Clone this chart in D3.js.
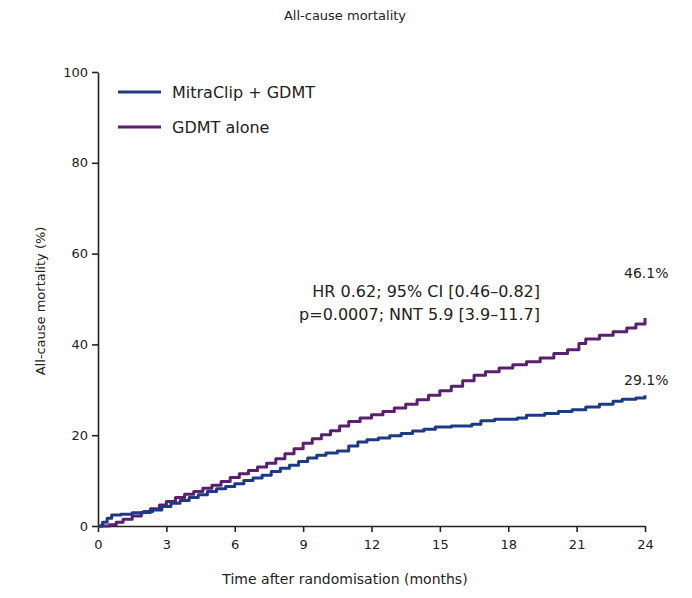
<!DOCTYPE html>
<html><head><meta charset="utf-8">
<script src="https://cdn.jsdelivr.net/npm/d3@7"></script>
<style>body{margin:0;background:#fff}svg{display:block}text{font-family:"DejaVu Sans",Verdana,sans-serif;fill:#222}</style>
</head><body><svg id="c" width="692" height="598"></svg>
<script>
const xTicks = [0,3,6,9,12,15,18,21,24];
const yTicks = [0,20,40,60,80,100];
const seriesNames = ["MitraClip + GDMT","GDMT alone"];
const seriesColors = ["#1d3b84","#5a1f6e"];
const mitraTime = [0,0.2,0.4,0.6,1.0,1.5,2.0,2.4,2.8,3.2,3.6,4.0,4.4,4.8,5.2,5.6,6.0,6.4,6.8,7.2,7.6,8.0,8.4,8.8,9.2,9.6,10.0,10.5,11.0,11.4,11.8,12.3,12.8,13.3,13.8,14.3,14.8,15.5,16.4,16.8,17.4,18.4,18.8,19.6,20.2,20.8,21.4,22.0,22.6,23.0,23.6,24.0];
const mitraVal = [0,0.8,1.7,2.4,2.6,2.9,3.2,3.5,4.3,5.0,5.6,6.3,6.9,7.6,8.2,8.7,9.3,10.0,10.6,11.2,12.0,12.7,13.4,14.2,15.0,15.6,16.1,16.5,17.6,18.5,19.0,19.4,19.9,20.4,20.9,21.3,21.8,22.0,22.4,23.2,23.5,23.8,24.4,24.8,25.2,25.6,26.2,26.8,27.5,27.9,28.2,28.8];
const gdmtTime = [0,0.5,0.8,1.1,1.5,1.9,2.3,2.7,3.0,3.4,3.8,4.2,4.6,5.0,5.4,5.8,6.2,6.6,7.0,7.4,7.8,8.2,8.6,9.0,9.4,9.8,10.2,10.6,11.0,11.5,12.0,12.5,13.0,13.5,14.0,14.5,15.0,15.5,16.0,16.5,17.0,17.6,18.2,18.8,19.4,20.0,20.6,21.1,21.4,22.0,22.6,23.2,23.6,24.0];
const gdmtVal = [0,0.3,0.8,1.5,2.2,3.0,3.8,4.6,5.4,6.3,7.0,7.6,8.3,9.0,9.8,10.7,11.5,12.2,13.0,13.8,14.8,15.9,17.0,18.2,19.2,20.1,21.0,22.0,23.0,23.8,24.5,25.2,26.0,26.8,27.8,28.8,29.8,30.8,32.0,33.2,34.0,34.8,35.5,36.2,37.0,38.0,38.8,40.2,41.2,42.0,42.8,43.6,44.5,45.8];
const endLabels = ["29.1%","46.1%"];
const statLines = ["HR 0.62; 95% CI [0.46\u20130.82]","p=0.0007; NNT 5.9 [3.9\u201311.7]"];

const svg = d3.select("#c");
const x = d3.scaleLinear().domain([0,24]).range([98,645]);
const y = d3.scaleLinear().domain([0,100]).range([526,72]);

svg.append("text").attr("x",345).attr("y",20).attr("text-anchor","middle").attr("font-size",13).text("All-cause mortality");

const xa = svg.append("g").attr("transform","translate(0,526)").call(d3.axisBottom(x).tickValues(xTicks).tickSize(6).tickPadding(8).tickSizeOuter(0));
const ya = svg.append("g").attr("transform","translate(98,0)").call(d3.axisLeft(y).tickValues(yTicks).tickSize(6).tickPadding(4).tickSizeOuter(0));
[xa,ya].forEach(a=>{a.selectAll("path,line").attr("stroke","#222").attr("stroke-width",1.6);a.selectAll("text").attr("font-size",13).attr("fill","#222").attr("font-family","DejaVu Sans, Verdana, sans-serif");});

svg.append("text").attr("x",345).attr("y",584).attr("text-anchor","middle").attr("font-size",14).text("Time after randomisation (months)");
svg.append("text").attr("transform","translate(45,301) rotate(-90)").attr("text-anchor","middle").attr("font-size",13).text("All-cause mortality (%)");

const line = d3.line().x(d=>x(d[0])).y(d=>y(d[1])).curve(d3.curveStepAfter);
const data = [d3.zip(mitraTime,mitraVal), d3.zip(gdmtTime,gdmtVal)];
[1,0].forEach(i=>{
  svg.append("path").datum(data[i]).attr("d",line).attr("fill","none").attr("stroke",seriesColors[i]).attr("stroke-width",3).attr("stroke-linejoin","round");
});

seriesNames.forEach((n,i)=>{
  const ly = 92 + i*35;
  svg.append("line").attr("x1",118).attr("x2",161).attr("y1",ly).attr("y2",ly).attr("stroke",seriesColors[i]).attr("stroke-width",3);
  svg.append("text").attr("x",172).attr("y",ly+6).attr("font-size",16).text(n);
});

statLines.forEach((t,i)=>svg.append("text").attr("x",540).attr("y",297+i*23).attr("text-anchor","end").attr("font-size",16).text(t));

const lastM = mitraVal[mitraVal.length-1], lastG = gdmtVal[gdmtVal.length-1];
svg.append("text").attr("x",624).attr("y",y(lastM)-10).attr("font-size",14).text(endLabels[0]);
svg.append("text").attr("x",624).attr("y",y(lastG)-40).attr("font-size",14).text(endLabels[1]);
</script></body></html>
